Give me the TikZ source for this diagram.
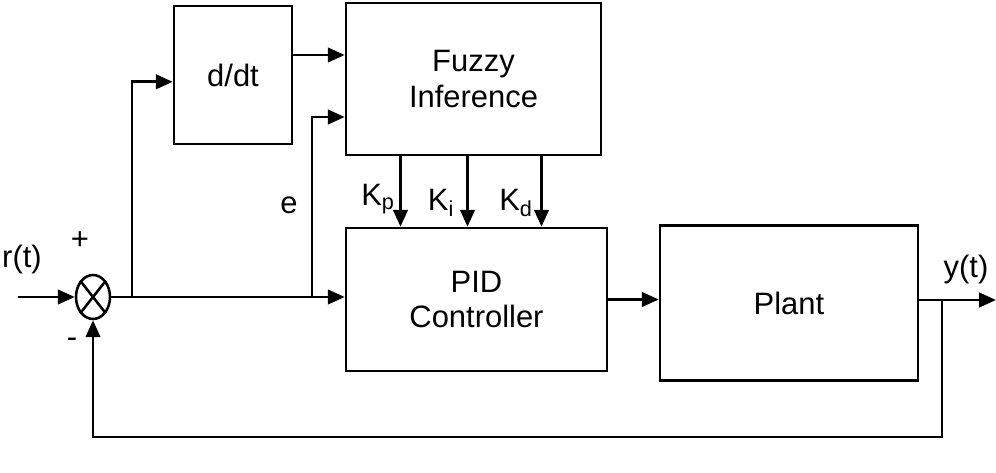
\documentclass[tikz,border=0pt]{standalone}
\usepackage{fontspec}
\setmainfont{Liberation Sans}
\usetikzlibrary{arrows.meta, shapes.geometric}

\tikzset{
  block/.style={draw, line width=1.8pt, align=center, inner sep=0pt},
  sig/.style={line width=2pt, -{Triangle[length=0.42cm, width=0.36cm]}},
  wire/.style={line width=1.8pt},
  lbl/.style={inner sep=0pt}
}

\begin{document}
\begin{tikzpicture}[x=0.025cm, y=-0.025cm, font=\fontsize{22}{25}\selectfont]

\useasboundingbox (0,0) rectangle (996,473);

% Блоки
\node[block, minimum width=2.95cm, minimum height=3.45cm] (ddt) at (233,75) {d/dt};
\node[block, minimum width=6.375cm, minimum height=3.8cm] (fuzzy) at (473.5,79) {Fuzzy\\Inference};
\node[block, minimum width=6.525cm, minimum height=3.575cm] (pid) at (476.5,299.5) {PID\\Controller};
\node[block, minimum width=6.45cm, minimum height=3.875cm] (plant) at (789,303) {Plant};

% Сумматор
\node[ellipse, draw, line width=1.8pt, minimum width=0.85cm, minimum height=1.1cm, inner sep=0pt] (sum) at (93,297) {};
\draw[wire] (sum.north east) -- (sum.south west);
\draw[wire] (sum.north west) -- (sum.south east);

% Точки
\coordinate (rin)  at (18,297);
\coordinate (b1)   at (132,297);
\coordinate (b2)   at (312,297);
\coordinate (fb)   at (942,300);
\coordinate (fbl)  at (93,437);
\coordinate (yout) at (996,300);
\coordinate (fzin1) at ([yshift=0.6cm]fuzzy.west);
\coordinate (fzin2) at ([yshift=-0.95cm]fuzzy.west);
\coordinate (ddin)  at ([yshift=-0.17cm]ddt.west);

% Связи
\draw[sig] (rin) -- (sum.west);
\draw[sig] (sum.east) -- (sum.east -| pid.west);
\draw[sig] (b1) |- (ddin);
\draw[sig] (b2) |- (fzin2);
\draw[sig] (ddt.east |- fzin1) -- (fzin1);
\foreach \dx in {-1.9,-0.225,1.625}
  \draw[sig] ([xshift=\dx cm]pid.north |- fuzzy.south) -- ([xshift=\dx cm]pid.north);
\draw[sig] (pid.east) -- (pid.east -| plant.west);
\draw[sig] (plant.east |- yout) -- (yout);
\draw[sig] (fb) |- (fbl) -- (sum.south);

% Подписи
\node[lbl] (rt) at (22,259) {r(t)};
\node[lbl] (plus) at (80,241) {+};
\node[lbl] (minus) at (72,343) {-};
\node[lbl] (e) at (289,205) {e};
\node[lbl] (kp) at (378,199) {K\textsubscript{p}};
\node[lbl] (ki) at (441,203) {K\textsubscript{i}};
\node[lbl] (kd) at (516,203) {K\textsubscript{d}};
\node[lbl] (yt) at (966,270) {y(t)};

\end{tikzpicture}
\end{document}
